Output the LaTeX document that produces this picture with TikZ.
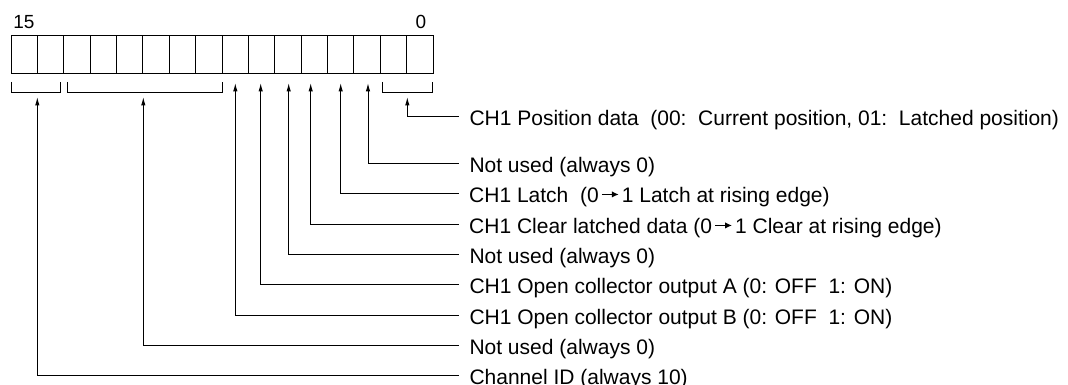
\documentclass[tikz,border=0pt]{standalone}
\usepackage{fontspec}
\setmainfont{Liberation Sans}
\usetikzlibrary{arrows.meta}
% small arrow used inside the descriptions
\newcommand{\rarr}{\hspace{0.12em}\tikz[baseline=0pt]\draw[line width=0.06em, -{Latex[length=0.32em,width=0.3em]}] (0,0.36em) -- (0.8em,0.36em);\hspace{0.12em}}

\begin{document}
\begin{tikzpicture}[x=1pt, y=-1pt, >={Latex[length=8.5pt,width=4.5pt]}, line width=1pt,
  cell/.style={draw, minimum width=26.375pt, minimum height=38pt, inner sep=0pt, outer sep=0pt, anchor=north west},
  bitno/.style={font=\fontsize{19}{22}\selectfont, inner sep=0pt},
  lbl/.style={anchor=west, inner xsep=10pt, inner ysep=0pt, text height=18pt, text depth=0pt, font=\fontsize{21}{24}\selectfont}]
  \useasboundingbox (0,0) rectangle (1068,385);
  % register, bit 15 on the left
  \foreach \b in {0,...,15} \node[cell] (b\b) at ({11+(15-\b)*26.375},36) {};
  \node[bitno] (n15) at (24,21.7) {15};
  \node[bitno] (n0) at (421,21.7) {0};
  % brackets under grouped bits
  \draw (11,82) -- (11,93) -- (60,93) -- (60,82);
  \draw (67,82) -- (67,93) -- (222.5,93) -- (222.5,82);
  \draw (382,82) -- (382,93) -- (432,93) -- (432,82);
  % descriptions
  \node[lbl] (pos)   at (459,117) {CH1 Position data\ \ (00:\ \ Current position, 01:\ \ Latched position)};
  \node[lbl] (nua)   at (459,163) {Not used (always 0)};
  \node[lbl] (latch) at (459,193) {CH1 Latch\ \ (0\rarr1 Latch at rising edge)};
  \node[lbl] (clr)   at (459,224) {CH1 Clear latched data (0\rarr1 Clear at rising edge)};
  \node[lbl] (nub)   at (459,254) {Not used (always 0)};
  \node[lbl] (outa)  at (459,284) {CH1 Open collector output A (0: OFF\ \ 1: ON)};
  \node[lbl] (outb)  at (459,315) {CH1 Open collector output B (0: OFF\ \ 1: ON)};
  \node[lbl] (nuc)   at (459,345) {Not used (always 0)};
  \node[lbl] (chid)  at (459,375) {Channel ID (always 10)};
  % connectors
  \foreach \x/\y/\n in {407.3/97/pos, 368/83/nua, 340.7/83/latch, 310.7/83/clr, 288.7/83/nub,
                        260.7/83/outa, 235.3/83/outb, 143.3/97/nuc, 37.3/97/chid}
    \draw[<-] (\x,\y) |- (\n.west);
\end{tikzpicture}
\end{document}
